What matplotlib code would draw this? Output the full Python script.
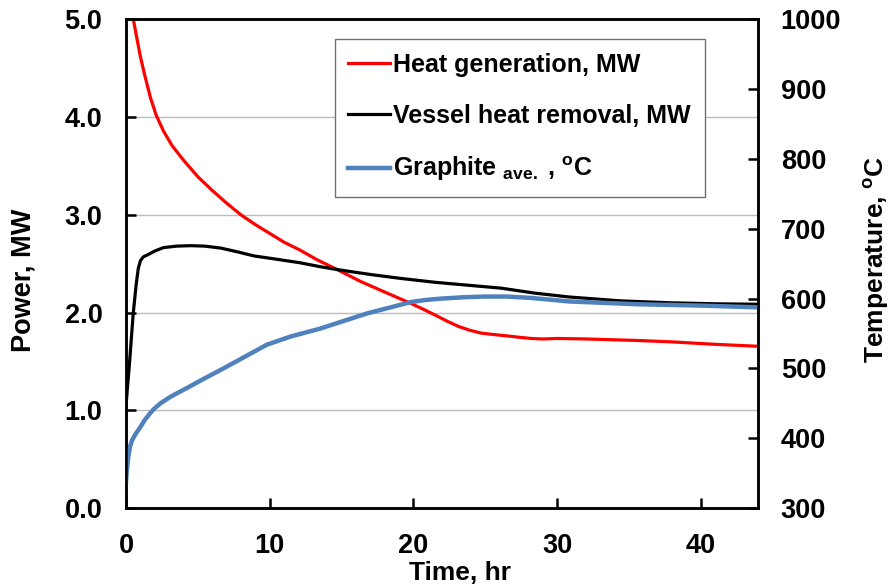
import numpy as np
import matplotlib
matplotlib.use("Agg")
import matplotlib.pyplot as plt

plt.rcParams["font.family"] = ["Liberation Sans", "DejaVu Sans"]
plt.rcParams["font.weight"] = "bold"
plt.rcParams["mathtext.fontset"] = "custom"
plt.rcParams["mathtext.rm"] = "Liberation Sans:bold"
plt.rcParams["mathtext.bf"] = "Liberation Sans:bold"
plt.rcParams["mathtext.it"] = "Liberation Sans:bold"

# Heat generation (MW)
t_gen = [0.45, 0.7, 1.0, 1.3, 1.7, 2.1, 2.6, 3.2, 4.0, 5.0, 6.0, 7.0, 8.0, 9.0, 10.0,
         11.0, 12.1, 13.3, 14.7, 16.3, 18.0, 19.8, 20.6, 21.5, 22.3, 23.1, 23.9, 24.7,
         25.6, 26.6, 27.5, 28.2, 29.0, 30.0, 32.0, 35.5, 38.0, 41.0, 44.0]
p_gen = [5.05, 4.85, 4.62, 4.43, 4.2, 4.02, 3.86, 3.71, 3.56, 3.39, 3.25, 3.12, 3.0, 2.9, 2.81,
         2.72, 2.64, 2.54, 2.44, 2.32, 2.21, 2.095, 2.04, 1.975, 1.915, 1.86, 1.82, 1.79,
         1.775, 1.76, 1.745, 1.735, 1.73, 1.735, 1.73, 1.715, 1.70, 1.675, 1.655]

# Vessel heat removal (MW)
t_ves = [0, 0.25, 0.5, 0.7, 0.85, 1.0, 1.2, 1.55, 2.0, 2.6, 3.5, 4.5, 5.5, 6.6, 7.8, 8.9,
         10.3, 12.1, 13.5, 14.7, 17.0, 19.1, 21.5, 23.8, 26.1, 28.4, 30.8, 34.4, 37.9,
         41.0, 44.0]
p_ves = [1.05, 1.5, 1.99, 2.28, 2.45, 2.53, 2.57, 2.595, 2.63, 2.665, 2.68, 2.685, 2.68,
         2.66, 2.62, 2.58, 2.55, 2.51, 2.47, 2.44, 2.39, 2.35, 2.31, 2.28, 2.25, 2.20,
         2.16, 2.12, 2.10, 2.09, 2.085]

# Average graphite temperature (C)
t_gra = [0, 0.05, 0.15, 0.28, 0.4, 0.63, 1.0, 1.3, 1.68, 2.0, 2.4, 3.1, 4.2, 5.4, 6.6,
         8.2, 9.8, 11.5, 13.5, 15.0, 16.8, 18.5, 19.8, 20.8, 21.9, 23.5, 25.0, 26.5,
         28.2, 30.8, 35.5, 40.0, 44.0]
T_gra = [338, 352, 372, 388, 396, 405, 416, 426, 436, 443, 450, 459.5, 471.5, 485, 498,
         516, 534, 546, 557, 567, 579, 588, 595, 598, 600, 602, 603, 603,
         601, 596, 592, 590, 587.5]

fig = plt.figure(figsize=(8.9, 5.87), dpi=100)
ax = fig.add_axes([0.1416, 0.1346, 0.7106, 0.8322])
ax2 = ax.twinx()

l1, = ax.plot(t_gen, p_gen, color="#ff0000", lw=2.3, label="Heat generation, MW")
l2, = ax.plot(t_ves, p_ves, color="black", lw=2.3, label="Vessel heat removal, MW")
l3, = ax2.plot(t_gra, T_gra, color="#4f81bd", lw=3.2,
               label=r"Graphite $_{\mathrm{ave.}}$ , $^{\mathrm{o}}$C")

ax.set_xlim(0, 44)
ax.set_ylim(0, 5)
ax2.set_ylim(300, 1000)
ax.set_xticks([0, 10, 20, 30, 40])
ax.set_yticks(np.arange(0, 5.01, 1.0))
ax.set_yticklabels([f"{v:.1f}" for v in np.arange(0, 5.01, 1.0)])
ax2.set_yticks(np.arange(300, 1001, 100))

ax.yaxis.grid(True, color="#bcbcbc", lw=1.0)
ax.set_axisbelow(True)

for a in (ax, ax2):
    for s in a.spines.values():
        s.set_linewidth(1.8)
ax.tick_params(axis="both", direction="in", length=7, width=1.8, labelsize=19.5)
ax.tick_params(axis="y", pad=17)
ax.tick_params(axis="x", pad=18)
ax2.tick_params(axis="y", direction="in", length=7, width=1.8, labelsize=19.5, pad=16)

ax.set_xlabel("Time, hr", fontsize=19, fontweight="bold")
ax.xaxis.set_label_coords(0.528, -0.108)
ax.set_ylabel("Power, MW", fontsize=19.5, fontweight="bold")
ax.yaxis.set_label_coords(-0.141, 0.467)
ax2.set_ylabel(r"Temperature, $^{\mathrm{o}}$C", fontsize=19, fontweight="bold")
ax2.yaxis.set_label_coords(1.163, 0.508)

leg = ax2.legend(handles=[l1, l2, l3], loc="upper left", bbox_to_anchor=(0.330, 0.960),
                 borderaxespad=0, fontsize=18, handlelength=1.68, handletextpad=0.12,
                 labelspacing=1.08, borderpad=0.55, fancybox=False, framealpha=1)
leg.get_frame().set_edgecolor("#707070")
leg.get_frame().set_linewidth(1.0)

fig.savefig("out.png", dpi=100)
